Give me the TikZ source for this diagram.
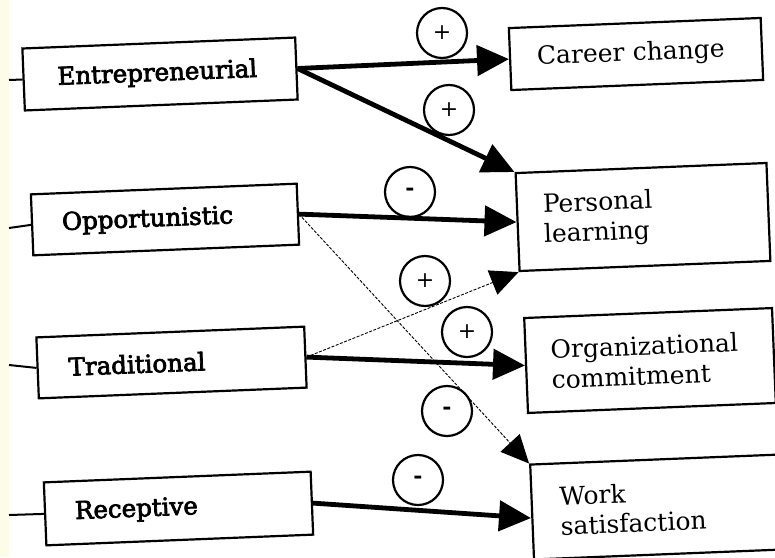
\documentclass[tikz,border=0pt]{standalone}
\usepackage{fontspec}
\setmainfont{DejaVu Serif}
\newfontfamily\lfont[FakeBold=3]{DejaVu Serif}
\usetikzlibrary{arrows.meta}
\definecolor{cream}{RGB}{252,252,232}
\begin{document}
\begin{tikzpicture}[x=1pt,y=1pt,
  box/.style={draw, line width=2.2pt, rotate=2.3, align=left, inner ysep=0pt},
  lbox/.style={box, font=\fontsize{24.5}{30}\selectfont\lfont},
  rbox/.style={box, font=\fontsize{25}{30}\selectfont},
  sign/.style={draw, circle, line width=2.2pt, minimum size=50pt, inner sep=0pt,
    font=\fontsize{22}{22}\selectfont},
  bigarrow/.style={line width=4.8pt, -{Triangle[length=32pt,width=30pt]}},
  thinarrow/.style={line width=0.9pt, dash pattern=on 3pt off 1.5pt,
    -{Triangle[length=28pt,width=26pt]}},
  lead/.style={line width=2pt}]
\useasboundingbox (0,0) rectangle (775,-557);
\fill[white] (0,0) rectangle (775,-557);
\fill[cream] (0,0) rectangle (9,-557);
\clip (0,0) rectangle (775,-557);

% left boxes
\node[lbox, minimum height=62pt, text width=205pt, inner xsep=34pt] (E) at (160,-74) {Entrepreneurial};
\node[lbox, minimum height=61pt, text width=206pt, inner xsep=30pt] (O) at (165,-219.5) {Opportunistic};
\node[lbox, minimum height=61pt, text width=206pt, inner xsep=31pt] (T) at (171.5,-362.5) {Traditional};
\node[lbox, minimum height=63pt, text width=207pt, inner xsep=30pt] (R) at (178.5,-508.5) {Receptive};

% right boxes
\node[rbox, minimum height=62pt, text width=198pt, inner xsep=27pt] (CC) at (636,-54) {\mbox{Career change}};
\node[rbox, minimum height=98pt, text width=199pt, inner xsep=26pt] (PL) at (643,-217) {Personal\\learning};
\node[rbox, minimum height=95pt, text width=198pt, inner xsep=25pt] (OC) at (650,-360.5) {Organizational\\commitment};
\node[rbox, minimum height=95pt, text width=194pt, inner xsep=28pt] (WS) at (657,-507) {Work\\satisfaction};

% leads on the left
\coordinate (eL) at (9,-80);
\coordinate (oL) at (9,-228);
\coordinate (tL) at (9,-365);
\coordinate (rL) at (9,-515);
\draw[lead] (eL) -- (E.west);
\draw[lead] (oL) -- (O.west);
\draw[lead] (tL) -- (T.west);
\draw[lead] (rL) -- (R.west);

% connectors
\draw[bigarrow] (E.east) -- (CC.west);
\draw[bigarrow] (E.east) -- (PL.north west);
\draw[bigarrow] (O.east) -- (PL.west);
\draw[thinarrow] (O.east) -- (WS.north west);
\draw[thinarrow] (T.east) -- (PL.south west);
\draw[bigarrow] (T.east) -- (OC.west);
\draw[bigarrow] (R.east) -- ([yshift=-6pt]WS.west);

% signs
\node[sign] (s1) at (442,-33) {+};
\node[sign] (s2) at (449,-110) {+};
\node[sign] (s3) at (410,-192) {\textbf{-}};
\node[sign] (s4) at (425,-281) {+};
\node[sign] (s5) at (467,-332) {+};
\node[sign] (s6) at (447,-411) {\textbf{-}};
\node[sign] (s7) at (418,-480) {\textbf{-}};
\end{tikzpicture}
\end{document}
